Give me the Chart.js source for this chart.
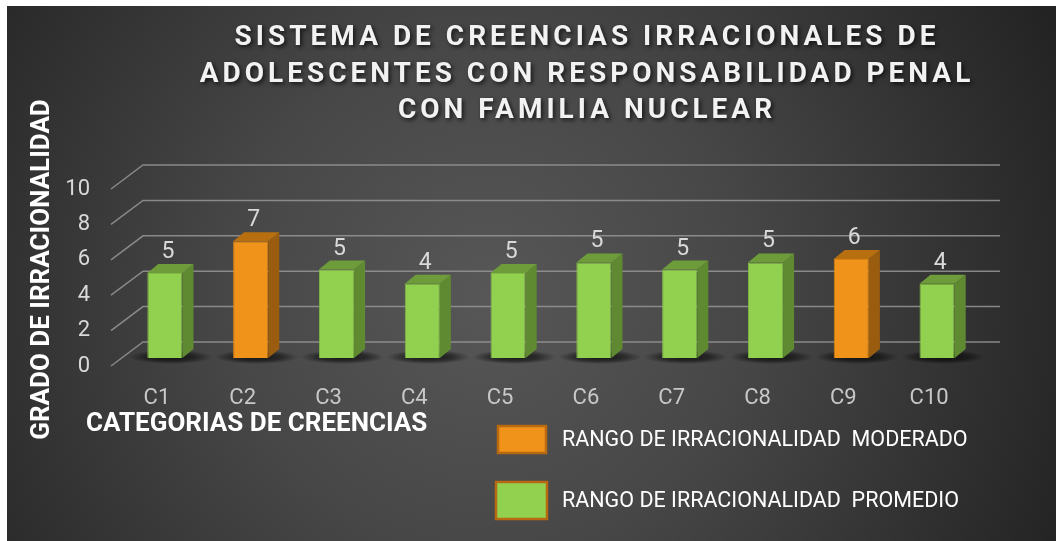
<!DOCTYPE html>
<html>
<head>
<meta charset="utf-8">
<script src="https://cdn.jsdelivr.net/npm/chart.js@4.4.1/dist/chart.umd.min.js"></script>
<style>
  html, body { margin: 0; padding: 0; background: #fff; }
  #wrap { position: absolute; left: 7px; top: 6px; width: 1049px; height: 535px; }
</style>
</head>
<body>
<div id="wrap"><canvas id="grafico"></canvas></div>
<script>
// --- datos del grafico ---
const categorias = ['C1', 'C2', 'C3', 'C4', 'C5', 'C6', 'C7', 'C8', 'C9', 'C10'];
const valores = [4.8, 6.6, 5.0, 4.2, 4.8, 5.4, 5.0, 5.4, 5.6, 4.2];
const rangos = ['promedio', 'moderado', 'promedio', 'promedio', 'promedio',
  'promedio', 'promedio', 'promedio', 'moderado', 'promedio'];
const tiposRango = ['moderado', 'promedio'];
const etiquetasRango = ['RANGO DE IRRACIONALIDAD  MODERADO', 'RANGO DE IRRACIONALIDAD  PROMEDIO'];
const ticksY = [0, 2, 4, 6, 8, 10];
const titulo = ['SISTEMA DE CREENCIAS IRRACIONALES DE',
  'ADOLESCENTES CON RESPONSABILIDAD PENAL', 'CON FAMILIA NUCLEAR'];
const tituloEjeX = 'CATEGORIAS DE CREENCIAS';
const tituloEjeY = 'GRADO DE IRRACIONALIDAD';

// --- estilos ---
const COLORES = {
  moderado: { frente: '#f0931a', lado: '#9a5c0f', tapa: '#b86f10', borde: '#d98313' },
  promedio: { frente: '#92d050', lado: '#5f8a32', tapa: '#6f9c3b', borde: '#7fb845' }
};
const FUENTE = 'Roboto, "Open Sans", sans-serif';
const PROF_X = 11, PROF_Y = 9;      // profundidad de cada barra
const PARED_X = 21, PARED_Y = 16;   // pared del fondo
const PISO_X = 11, PISO_Y = 8;      // borde delantero

const fondo = {
  id: 'fondo',
  beforeDraw(chart) {
    const { ctx, width, height } = chart;
    const g = ctx.createRadialGradient(480, 290, 0, 480, 290, 640);
    g.addColorStop(0, '#575757');
    g.addColorStop(0.4, '#474747');
    g.addColorStop(1, '#222222');
    ctx.save();
    ctx.fillStyle = g;
    ctx.fillRect(0, 0, width, height);
    ctx.restore();
  }
};

const escena3d = {
  id: 'escena3d',
  beforeDatasetsDraw(chart) {
    const { ctx, chartArea, scales: { y } } = chart;
    ctx.save();
    ctx.strokeStyle = 'rgba(150,150,150,0.85)';
    ctx.lineWidth = 1.5;
    ticksY.forEach(v => {
      const py = y.getPixelForValue(v);
      ctx.beginPath();
      ctx.moveTo(chartArea.left - PISO_X, py + PISO_Y);
      ctx.lineTo(chartArea.left + PARED_X, py - PARED_Y);
      ctx.lineTo(chartArea.right + 20, py - PARED_Y);
      ctx.stroke();
    });
    // sombras en el piso
    chart.data.datasets.forEach((ds, di) => {
      chart.getDatasetMeta(di).data.forEach((el, i) => {
        if (ds.data[i] == null) return;
        const cx = el.x + 6, cy = el.base - 1;
        const rx = el.width / 2 + 24, ry = 7;
        ctx.save();
        ctx.translate(cx, cy);
        ctx.scale(1, ry / rx);
        const g = ctx.createRadialGradient(0, 0, 0, 0, 0, rx);
        g.addColorStop(0, 'rgba(0,0,0,0.75)');
        g.addColorStop(0.6, 'rgba(0,0,0,0.45)');
        g.addColorStop(1, 'rgba(0,0,0,0)');
        ctx.fillStyle = g;
        ctx.beginPath();
        ctx.arc(0, 0, rx, 0, Math.PI * 2);
        ctx.fill();
        ctx.restore();
      });
    });
    ctx.restore();
  },
  afterDatasetsDraw(chart) {
    const { ctx } = chart;
    ctx.save();
    chart.data.datasets.forEach((ds, di) => {
      const c = COLORES[tiposRango[di]];
      chart.getDatasetMeta(di).data.forEach((el, i) => {
        const v = ds.data[i];
        if (v == null) return;
        const l = el.x - el.width / 2, r = el.x + el.width / 2;
        const t = el.y, b = el.base;
        ctx.fillStyle = c.lado;
        ctx.beginPath();
        ctx.moveTo(r, t); ctx.lineTo(r + PROF_X, t - PROF_Y);
        ctx.lineTo(r + PROF_X, b - PROF_Y); ctx.lineTo(r, b);
        ctx.closePath(); ctx.fill();
        ctx.fillStyle = c.tapa;
        ctx.beginPath();
        ctx.moveTo(l, t); ctx.lineTo(l + PROF_X, t - PROF_Y);
        ctx.lineTo(r + PROF_X, t - PROF_Y); ctx.lineTo(r, t);
        ctx.closePath(); ctx.fill();
        // etiqueta de valor
        ctx.fillStyle = '#d9d9d9';
        ctx.font = '23px ' + FUENTE;
        ctx.textAlign = 'center';
        ctx.textBaseline = 'alphabetic';
        ctx.fillText(String(Math.round(v)), el.x + 3, t - PROF_Y - 6);
      });
    });
    ctx.restore();
  },
  afterDraw(chart) {
    const { ctx } = chart;
    ctx.save();
    // titulo
    ctx.font = 'bold 28px ' + FUENTE;
    ctx.letterSpacing = '4px';
    ctx.textAlign = 'center';
    ctx.textBaseline = 'middle';
    ctx.fillStyle = '#f2f2f2';
    ctx.shadowColor = 'rgba(0,0,0,0.7)';
    ctx.shadowBlur = 4;
    ctx.shadowOffsetX = 2;
    ctx.shadowOffsetY = 2;
    titulo.forEach((linea, i) => ctx.fillText(linea, 580, 32 + i * 36.5));
    ctx.restore();

    ctx.save();
    // titulo eje x
    ctx.font = 'bold 26px ' + FUENTE;
    ctx.fillStyle = '#ffffff';
    ctx.textAlign = 'left';
    ctx.textBaseline = 'middle';
    ctx.fillText(tituloEjeX, 79, 418);
    // leyenda
    const cajas = [[491, 420, 48, 27], [489, 476, 51, 37]];
    ctx.font = '21.5px ' + FUENTE;
    tiposRango.forEach((tipo, i) => {
      const [x, y, w, h] = cajas[i];
      ctx.fillStyle = COLORES[tipo].frente;
      ctx.fillRect(x, y, w, h);
      ctx.strokeStyle = '#b86a12';
      ctx.lineWidth = 2.5;
      ctx.strokeRect(x, y, w, h);
      ctx.fillStyle = '#ffffff';
      ctx.fillText(etiquetasRango[i], 555, y + h / 2 + 1);
    });
    ctx.restore();
  }
};

const datasets = tiposRango.map((tipo, di) => ({
  label: etiquetasRango[di],
  data: valores.map((v, i) => rangos[i] === tipo ? v : null),
  backgroundColor: COLORES[tipo].frente,
  borderColor: COLORES[tipo].borde,
  borderWidth: 1,
  grouped: false,
  barPercentage: 0.41,
  categoryPercentage: 1
}));

new Chart(document.getElementById('grafico'), {
  type: 'bar',
  data: { labels: categorias, datasets },
  options: {
    responsive: true,
    maintainAspectRatio: false,
    animation: false,
    layout: { padding: { top: 175, right: 76, left: 0, bottom: 0 } },
    plugins: {
      legend: { display: false },
      tooltip: { enabled: false }
    },
    scales: {
      x: {
        grid: { display: false, drawTicks: false },
        border: { display: false },
        ticks: {
          color: '#c8c8c8',
          font: { family: FUENTE, size: 22 },
          padding: 27,
          labelOffset: -8
        },
        afterFit: s => { s.height = 183; }
      },
      y: {
        min: 0,
        max: 10,
        grid: { display: false, drawTicks: false },
        border: { display: false },
        ticks: {
          color: '#d9d9d9',
          font: { family: FUENTE, size: 22 },
          padding: 32,
          labelOffset: 8
        },
        afterBuildTicks: s => { s.ticks = ticksY.map(v => ({ value: v })); },
        title: {
          display: true,
          text: tituloEjeY,
          color: '#ffffff',
          font: { family: FUENTE, size: 26, weight: 'bold' },
          padding: { top: 20, bottom: 0 }
        },
        afterFit: s => { s.width = 115; }
      }
    }
  },
  plugins: [fondo, escena3d]
});
</script>
</body>
</html>
